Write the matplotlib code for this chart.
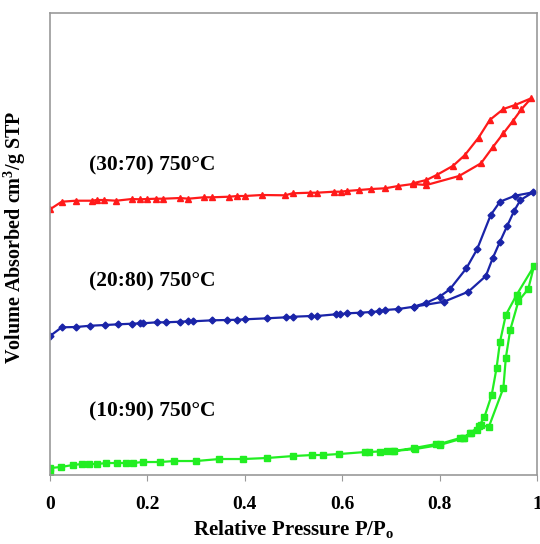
import matplotlib
matplotlib.use('agg')
import matplotlib.pyplot as plt

# (10:90) 750C  - green squares
x_green = [0.0, 0.0, 0.022, 0.047, 0.065, 0.081, 0.097, 0.115, 0.138, 0.156, 0.171, 0.19,
           0.226, 0.255, 0.30, 0.348, 0.397, 0.445, 0.50, 0.539, 0.56, 0.594, 0.647, 0.656,
           0.691, 0.706, 0.748, 0.793, 0.80, 0.842, 0.849, 0.862, 0.876, 0.885, 0.901,
           0.931, 0.936, 0.945, 0.962, 0.982, 0.994,
           0.958, 0.936, 0.924, 0.917, 0.907, 0.892, 0.881, 0.864, 0.85, 0.80, 0.75, 0.705, 0.678]
y_green = [3, 7, 8, 10, 11, 11, 11, 12, 12, 12, 12, 13,
           13, 14, 14, 16, 16, 17, 19, 20, 20, 21, 23, 23,
           24, 24, 27, 31, 31, 37, 37, 42, 45, 50, 48,
           87, 117, 145, 174, 186, 209,
           180, 160, 133, 107, 80, 58, 49, 42, 37, 30, 26, 24, 23]

# (20:80) 750C  - blue diamonds
x_blue = [0.0, 0.024, 0.053, 0.083, 0.113, 0.14, 0.168, 0.185, 0.19, 0.219, 0.238, 0.267,
          0.284, 0.293, 0.333, 0.363, 0.385, 0.40, 0.445, 0.485, 0.50, 0.536, 0.548, 0.587,
          0.595, 0.61, 0.637, 0.659, 0.676, 0.688, 0.715, 0.747, 0.809, 0.859, 0.895,
          0.909, 0.924, 0.939, 0.953, 0.966, 0.992,
          0.955, 0.924, 0.905, 0.877, 0.855, 0.821, 0.80, 0.773, 0.747]
y_blue = [139, 147.7, 148, 149.3, 150, 150.7, 151.3, 151.7, 151.7, 152.7, 152.7, 153.3,
          153.7, 153.7, 154.7, 155, 155.3, 155.7, 156.7, 157.7, 158.3, 159, 159, 160.7,
          160.7, 161.7, 162.3, 163, 163.7, 165, 166, 168.3, 173.3, 183.3, 199,
          216.7, 233.3, 249.3, 264, 275, 282.7,
          279.3, 273.3, 260, 225.7, 206.7, 185.7, 178.3, 172.3, 168.3]

# (30:70) 750C  - red triangles
x_red = [0.0, 0.024, 0.053, 0.086, 0.096, 0.111, 0.136, 0.168, 0.185, 0.20, 0.218, 0.233,
         0.267, 0.284, 0.316, 0.332, 0.368, 0.385, 0.40, 0.435, 0.483, 0.498, 0.534, 0.548,
         0.583, 0.597, 0.609, 0.635, 0.66, 0.688, 0.715, 0.745, 0.773, 0.84, 0.885,
         0.91, 0.931, 0.951, 0.968, 0.988,
         0.955, 0.931, 0.903, 0.88, 0.852, 0.828, 0.794, 0.773, 0.745]
y_red = [265.7, 273.3, 274.3, 274.3, 275, 275, 274.3, 276, 275.7, 276, 276.3, 276.3,
         277, 276.3, 277.7, 277.7, 278.3, 279, 279, 280, 279.7, 281.7, 282.3, 282.3,
         283.3, 283.3, 284, 285, 286, 286.7, 289, 291, 290, 299, 311.7,
         328.3, 341.7, 354.3, 365.7, 376.7,
         370, 366, 355, 337.3, 320, 309.3, 300, 295, 291.7]

x_ticks = [0, 0.2, 0.4, 0.6, 0.8, 1]
x_ticklabels = ['0', '0.2', '0.4', '0.6', '0.8', '1']

plt.rcParams['font.family'] = ['Liberation Serif', 'DejaVu Serif']

fig = plt.figure(figsize=(5.4, 5.44), dpi=100)
ax = fig.add_axes([0.0926, 0.1268, 0.9018, 0.8493])

ax.plot(x_green, y_green, color='#22ee22', marker='s', ms=5, lw=1.6)
ax.plot(x_blue, y_blue, color='#1a24a8', marker='D', ms=3.5, lw=1.6)
ax.plot(x_red, y_red, color='#ff1a1a', marker='^', ms=5, lw=1.6)

ax.text(0.08, 310, '(30:70) 750\u00b0C', fontsize=15.5, fontweight='bold', va='center')
ax.text(0.08, 194, '(20:80) 750\u00b0C', fontsize=15.5, fontweight='bold', va='center')
ax.text(0.08, 64, '(10:90) 750\u00b0C', fontsize=15.5, fontweight='bold', va='center')

ax.set_xlim(0, 1)
ax.set_ylim(0, 462)
ax.set_xticks(x_ticks)
ax.set_xticklabels(x_ticklabels, fontsize=14, fontweight='bold')
ax.set_yticks([])
ax.tick_params(axis='x', length=4, color='#999999', pad=11)
for s in ax.spines.values():
    s.set_color('#999999')
    s.set_linewidth(1.2)

ax.set_xlabel('Relative Pressure P/P$_\\mathregular{o}$', fontsize=15, fontweight='bold', labelpad=4)
ax.set_ylabel('Volume Absorbed cm$^\\mathregular{3}$/g STP', fontsize=14.5, fontweight='bold')
ax.yaxis.set_label_coords(-0.045, 0.515)

fig.savefig('out.png', dpi=100, facecolor='white')
